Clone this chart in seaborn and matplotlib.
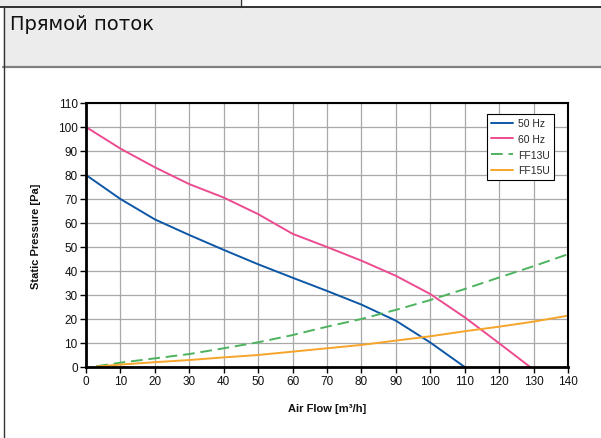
import matplotlib
matplotlib.use("Agg")
import matplotlib.pyplot as plt
import seaborn as sns
import pandas as pd
from matplotlib.patches import Rectangle
from matplotlib.lines import Line2D

# Data
flow_50 = [0, 10, 20, 30, 40, 50, 60, 70, 80, 90, 100, 110]
pres_50 = [80, 70, 61.5, 55, 48.8, 42.8, 37.2, 31.7, 26, 19.3, 10.2, 0]
flow_60 = [0, 10, 20, 30, 40, 50, 60, 70, 80, 90, 100, 110, 120, 129]
pres_60 = [100, 91, 83.2, 76.2, 70.6, 63.7, 55.5, 50, 44.3, 38, 30.4, 20.7, 9.9, 0]
flow_ff13 = [3, 10, 20, 30, 40, 50, 60, 70, 80, 90, 100, 110, 120, 130, 140]
pres_ff13 = [0.3, 1.8, 3.6, 5.4, 7.8, 10.3, 13.3, 16.8, 20, 23.8, 27.9, 32.5, 37.3, 42, 47]
flow_ff15 = [3, 10, 20, 30, 40, 50, 60, 70, 80, 90, 100, 110, 120, 130, 140]
pres_ff15 = [0.2, 1, 2, 2.9, 4, 5, 6.4, 7.8, 9.2, 11, 12.8, 14.9, 16.8, 18.9, 21.4]
series_names = ["50 Hz", "60 Hz", "FF13U", "FF15U"]
x_ticks = list(range(0, 141, 10))
y_ticks = list(range(0, 111, 10))

frames = []
for name, xs, ys in zip(series_names,
                        [flow_50, flow_60, flow_ff13, flow_ff15],
                        [pres_50, pres_60, pres_ff13, pres_ff15]):
    frames.append(pd.DataFrame({"flow": xs, "pressure": ys, "series": name}))
df = pd.concat(frames, ignore_index=True)

sns.set_theme(style="white")
plt.rcParams["font.family"] = ["Liberation Sans", "DejaVu Sans"]

W, H = 601, 439
fig = plt.figure(figsize=(W / 100, H / 100), dpi=100)
fig.patch.set_facecolor("white")

def fx(px):
    return px / W

def fy(py):
    return 1 - py / H

# Header decorations
fig.patches.append(Rectangle((fx(0), fy(7)), fx(240), fy(0) - fy(7), transform=fig.transFigure,
                             facecolor="#ececec", edgecolor="none", zorder=0))
fig.patches.append(Rectangle((fx(3), fy(68)), fx(W - 3), fy(7) - fy(68), transform=fig.transFigure,
                             facecolor="#ececec", edgecolor="none", zorder=0))
fig.lines.append(Line2D([fx(0), fx(W)], [fy(7.5), fy(7.5)], transform=fig.transFigure,
                        color="#111111", lw=1.2))
fig.lines.append(Line2D([fx(240.5), fx(240.5)], [fy(0), fy(7.5)], transform=fig.transFigure,
                        color="#333333", lw=1.0))
fig.lines.append(Line2D([fx(3), fx(W)], [fy(68), fy(68)], transform=fig.transFigure,
                        color="#808080", lw=1.6))
fig.lines.append(Line2D([fx(3.5), fx(3.5)], [fy(7.5), fy(H)], transform=fig.transFigure,
                        color="#333333", lw=1.0))
fig.text(fx(10), fy(25), "Прямой поток", fontsize=14, family=["DejaVu Sans"],
         color="#111111", va="center", ha="left")

ax = fig.add_axes([fx(86), fy(368), fx(568) - fx(86), fy(104) - fy(368)])

palette = {"50 Hz": "#0d57a6", "60 Hz": "#ec4b8f", "FF13U": "#4db35e", "FF15U": "#f7a52a"}
dashes = {"50 Hz": "", "60 Hz": "", "FF13U": (6, 3), "FF15U": ""}
sns.lineplot(data=df, x="flow", y="pressure", hue="series", style="series",
             palette=palette, dashes=dashes, hue_order=series_names, style_order=series_names,
             linewidth=1.4, ax=ax, sort=False, legend=False)

ax.set_xlim(0, 140)
ax.set_ylim(0, 110)
ax.set_xticks(x_ticks)
ax.set_yticks(y_ticks)
ax.grid(True, color="#a8a8a8", lw=0.9)
ax.set_axisbelow(True)
for side in ["left", "bottom"]:
    ax.spines[side].set_linewidth(2.0)
for side in ["top", "right"]:
    ax.spines[side].set_linewidth(1.5)
for s in ax.spines.values():
    s.set_color("black")
ax.tick_params(axis="both", direction="out", length=4, width=1, color="black",
               labelsize=8.5, labelcolor="#111111", pad=2, bottom=True, left=True)
ax.set_xlabel("Air Flow [m³/h]", fontsize=8, fontweight="bold", labelpad=11, color="#111111")
ax.set_ylabel("Static Pressure [Pa]", fontsize=8, fontweight="bold", labelpad=12, color="#111111")

handles = [Line2D([], [], color=palette[n], lw=1.4,
                  linestyle=(0, dashes[n]) if dashes[n] else "-") for n in series_names]
leg = ax.legend(handles, series_names, loc="upper right", bbox_to_anchor=(0.971, 0.958),
                fontsize=7.5, frameon=True, fancybox=False, framealpha=1,
                edgecolor="black", borderpad=0.4, handlelength=2.1, labelspacing=0.55,
                handletextpad=0.5, borderaxespad=0)
leg.get_frame().set_linewidth(0.8)

fig.savefig("out.png", dpi=100)
